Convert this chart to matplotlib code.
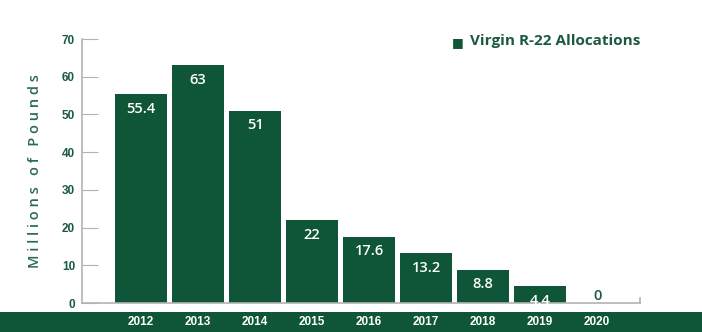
import matplotlib.pyplot as plt
from matplotlib.patches import Rectangle

# Virgin R-22 allocations, millions of pounds
years = ["2012", "2013", "2014", "2015", "2016", "2017", "2018", "2019", "2020"]
allocations = [55.4, 63, 51, 22, 17.6, 13.2, 8.8, 4.4, 0]
value_labels = ["55.4", "63", "51", "22", "17.6", "13.2", "8.8", "4.4", "0"]

green = "#0f5638"
text_green = "#1b5a3f"
axis_grey = "#b3b3b3"

fig = plt.figure(figsize=(7.02, 3.32), dpi=100)
ax = fig.add_axes([0.1168, 0.0873, 0.7949, 0.7952])

# footer band behind the year labels
fig.patches.append(Rectangle((0, 0), 1, 20 / 332, transform=fig.transFigure,
                             facecolor=green, edgecolor="none", zorder=-1))

x = range(len(years))
bars = ax.bar(x, allocations, width=0.91, color=green, zorder=2)

for rect, v, lab in zip(bars, allocations, value_labels):
    cx = rect.get_x() + rect.get_width() / 2
    if v > 2:
        ax.annotate(lab, (cx, v), xytext=(0, -10.5), textcoords="offset points",
                    ha="center", va="center", color="white", fontsize=10.5,
                    family="Open Sans", fontweight="semibold", zorder=3)
    else:
        ax.annotate(lab, (cx, v), xytext=(0, 5), textcoords="offset points",
                    ha="center", va="center", color=text_green, fontsize=10.5,
                    family="Open Sans", fontweight="semibold", zorder=3)

ax.set_xlim(-1.035, 8.75)
ax.set_ylim(0, 70)
ax.set_yticks(range(0, 71, 10))
ax.set_xticks(list(x))
ax.set_xticklabels(years, color="white", fontsize=8.5, fontweight="bold",
                   family="Liberation Sans")
ax.tick_params(axis="x", length=0, pad=9.5)
ax.tick_params(axis="y", direction="in", length=11.5, width=0.8, color=axis_grey,
               labelcolor=text_green, labelsize=8.5, pad=5)
for t in ax.get_yticklabels():
    t.set_fontweight("bold")
    t.set_family("Liberation Sans")

for side in ["top", "right"]:
    ax.spines[side].set_visible(False)
for side in ["left", "bottom"]:
    ax.spines[side].set_color(axis_grey)
    ax.spines[side].set_linewidth(1.2)
ax.plot([1, 1], [0, 0.02], transform=ax.transAxes, color=axis_grey,
        lw=1.2, clip_on=False)

ax.set_ylabel("M i l l i o n s   o f   P o u n d s", color="#2a6a50",
              fontsize=10.5, family="Open Sans", fontweight="semibold", labelpad=14)

# legend entry
fig.text(0.652, 0.873, "\u25A0", color=green, fontsize=9, va="center", ha="center")
fig.text(0.669, 0.875, "Virgin R-22 Allocations", color=text_green, fontsize=11,
         family="Open Sans", fontweight="bold", va="center", ha="left")

fig.savefig("out.png", dpi=100)
